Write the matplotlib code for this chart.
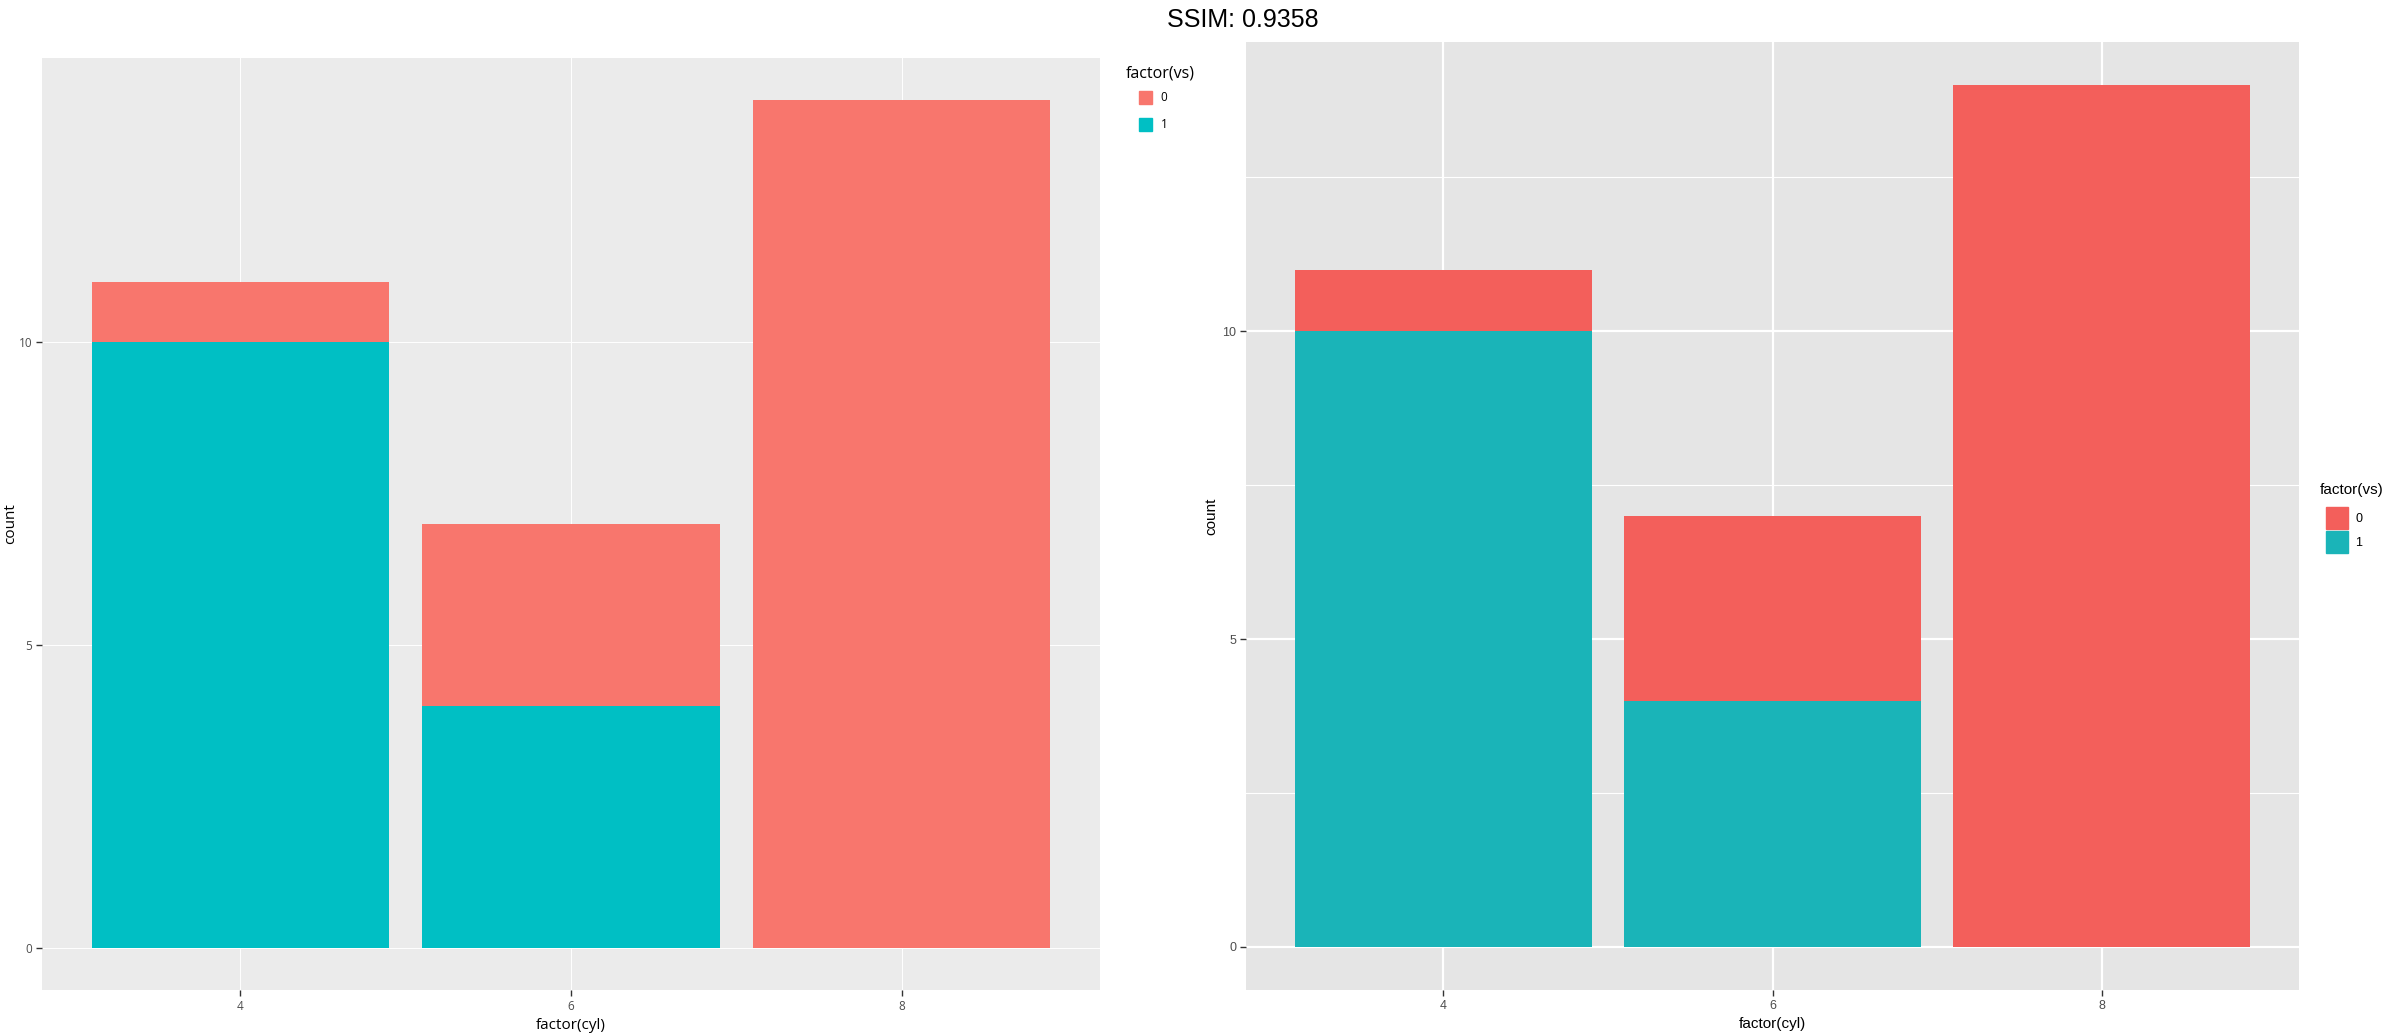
import numpy as np
import matplotlib.pyplot as plt
from matplotlib.patches import Patch

# counts of cars by cylinders, split by engine shape (vs)
cyl = ['4', '6', '8']
vs0_counts = [1, 3, 14]
vs1_counts = [10, 4, 0]
vs_levels = ['0', '1']
yticks = [0, 5, 10]

W, H = 2400, 1034
fig = plt.figure(figsize=(W / 100, H / 100), dpi=100, facecolor='white')


def px_axes(x0, y0, x1, y1):
    # axes from pixel box (top-left origin)
    return fig.add_axes([x0 / W, (H - y1) / H, (x1 - x0) / W, (y1 - y0) / H])


def draw_panel(ax, bg, red, teal, font, grid_major, grid_minor, tick_fs, lab_fs, ypad):
    x = np.arange(1, len(cyl) + 1)
    ax.set_facecolor(bg)
    ax.bar(x, vs1_counts, width=0.9, color=teal, zorder=3)
    ax.bar(x, vs0_counts, width=0.9, bottom=vs1_counts, color=red, zorder=3)
    ax.set_xlim(0.4, 3.6)
    ax.set_ylim(-0.7, 14.7)
    ax.set_xticks(x)
    ax.set_xticklabels(cyl)
    ax.set_yticks(yticks)
    for s in ax.spines.values():
        s.set_visible(False)
    ax.tick_params(length=4, width=1, color='#333333', labelcolor='#4D4D4D',
                   labelsize=tick_fs, pad=3)
    for lab in ax.get_xticklabels() + ax.get_yticklabels():
        lab.set_family(font)
    ax.grid(True, which='major', color='white', lw=grid_major, zorder=1)
    if grid_minor:
        ax.set_yticks([2.5, 7.5, 12.5], minor=True)
        ax.tick_params(which='minor', length=0)
        ax.grid(True, which='minor', axis='y', color='white', lw=grid_minor, zorder=1)
    ax.set_axisbelow(True)
    ax.set_xlabel('factor(cyl)', family=font, fontsize=lab_fs, labelpad=4)
    ax.set_ylabel('count', family=font, fontsize=lab_fs, labelpad=ypad)
    return ax


# left panel
axl = px_axes(42, 58, 1100, 990)
draw_panel(axl, '#EBEBEB', '#F8766D', '#00BFC4', 'Open Sans', 0.7, 0, 8.5, 11, 0.5)
hl = [Patch(color=c, label=l) for c, l in zip(['#F8766D', '#00BFC4'], vs_levels)]
legl = fig.legend(handles=hl, loc='upper left',
                  bbox_to_anchor=(1134 / W, 1 - 86 / H), frameon=False,
                  prop={'family': 'Open Sans', 'size': 8.5},
                  handlelength=1.1, handleheight=1.32, labelspacing=1.15,
                  handletextpad=0.75, borderaxespad=0)
fig.text(1126 / W, 1 - 74 / H, 'factor(vs)', ha='left', va='center',
         family='Open Sans', fontsize=11.5)

# right panel
axr = px_axes(1246, 42, 2299, 990)
draw_panel(axr, '#E5E5E5', '#F35F5B', '#1AB4B8', 'Liberation Sans', 1.6, 0.8, 9, 11, 3)
hr = [Patch(color=c, label=l) for c, l in zip(['#F35F5B', '#1AB4B8'], vs_levels)]
legr = fig.legend(handles=hr, loc='upper left',
                  bbox_to_anchor=(2321 / W, 1 - 502 / H), frameon=False,
                  prop={'family': 'Liberation Sans', 'size': 9},
                  handlelength=1.76, handleheight=2.33, labelspacing=0.2,
                  handletextpad=0.6, borderaxespad=0)
fig.text(2320 / W, 1 - 490 / H, 'factor(vs)', ha='left', va='center',
         family='Liberation Sans', fontsize=11)

fig.text(1243 / W, 1 - 20 / H, 'SSIM: 0.9358', ha='center', va='center',
         family='Liberation Sans', fontsize=18)

fig.savefig('out.png', dpi=100, facecolor='white')
